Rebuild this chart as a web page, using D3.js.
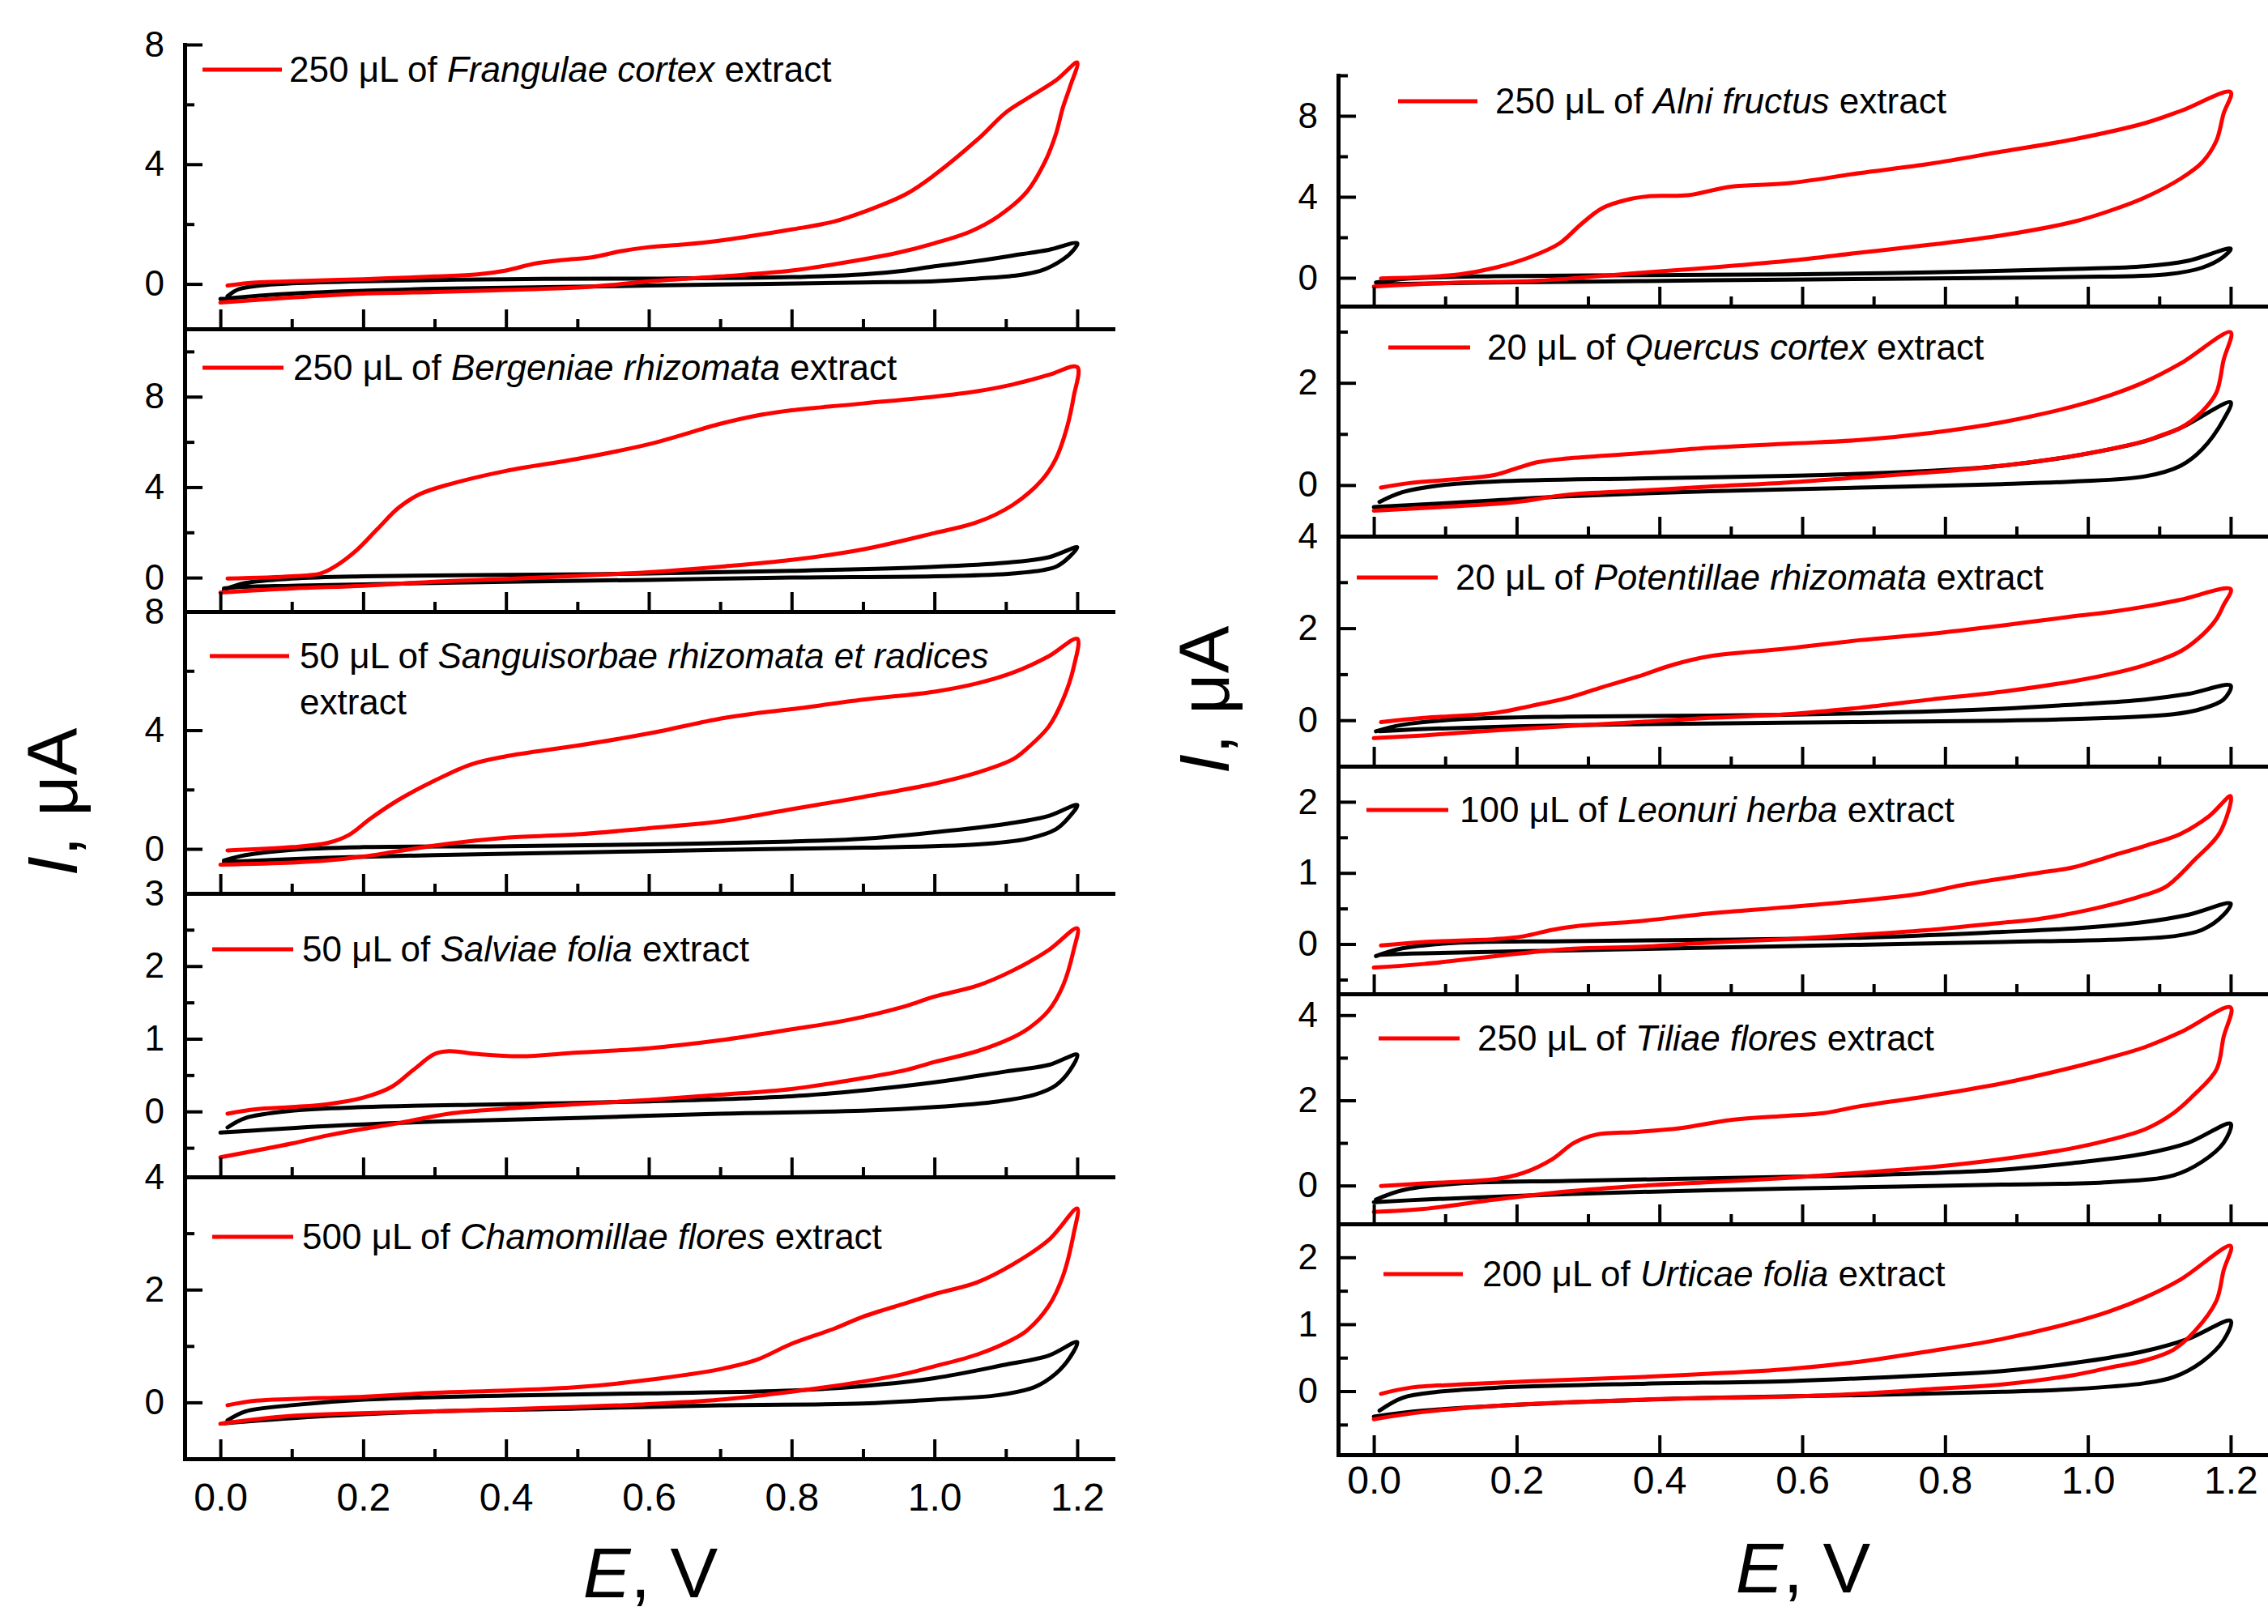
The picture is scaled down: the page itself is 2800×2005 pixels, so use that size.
<!DOCTYPE html>
<html>
<head>
<meta charset="utf-8">
<script src="https://cdn.jsdelivr.net/npm/d3@7"></script>
<style>
  body { margin: 0; background: #fff; }
  svg text { font-family: "Liberation Sans", Arial, sans-serif; }
</style>
</head>
<body>
<div id="main-container"></div>
<script>
var width = 2800,
    height = 2005

// legend texts, left column first, then right column
var doses = ["250 μL of ", "250 μL of ", "50 μL of ", "50 μL of ", "500 μL of ",
             "250 μL of ", "20 μL of ", "20 μL of ", "100 μL of ", "250 μL of ", "200 μL of "]
var extracts = ["Frangulae cortex", "Bergeniae rhizomata", "Sanguisorbae rhizomata et radices", "Salviae folia", "Chamomillae flores",
                "Alni fructus", "Quercus cortex", "Potentillae rhizomata", "Leonuri herba", "Tiliae flores", "Urticae folia"]

// axes
var xTicks = [0, 0.2, 0.4, 0.6, 0.8, 1.0, 1.2]
var xMinorTicks = [0.1, 0.3, 0.5, 0.7, 0.9, 1.1]
var yDomains = [[-1.5, 8], [-1.5, 11], [-1.5, 8], [-0.9, 3], [-1, 4],
                [-1.4, 10], [-1, 3.5], [-1, 4], [-0.7, 2.5], [-0.9, 4.5], [-0.95, 2.5]]
var yTicks = [[0, 4, 8], [0, 4, 8], [0, 4, 8], [0, 1, 2, 3], [0, 2, 4],
              [0, 4, 8], [0, 2], [0, 2, 4], [0, 1, 2], [0, 2, 4], [0, 1, 2]]
var yMinorTicks = [[2, 6], [2, 6, 10], [2, 6], [-0.5, 0.5, 1.5, 2.5], [1, 3],
                   [2, 6, 10], [1, 3], [1, 3], [-0.5, 0.5, 1.5], [1, 3], [-0.5, 0.5, 1.5]]

// CV curves [E, V ; I, uA]: anodic sweep up to 1.2 V then back to 0 V
var frangulaeExtract = [[0.01,-0.05],[0.05,0.05],[0.1,0.09],[0.2,0.16],[0.3,0.25],[0.36,0.32],[0.4,0.45],[0.44,0.68],[0.48,0.8],[0.52,0.89],[0.56,1.09],[0.6,1.23],[0.65,1.32],[0.7,1.45],[0.8,1.82],[0.86,2.09],[0.9,2.4],[0.96,3.0],[1.0,3.64],[1.06,4.82],[1.1,5.73],[1.13,6.2],[1.17,6.8],[1.2,7.4],
  [1.19,6.6],[1.18,5.9],[1.17,5.0],[1.155,4.09],[1.13,3.1],[1.09,2.27],[1.05,1.75],[1.0,1.36],[0.95,1.05],[0.9,0.82],[0.8,0.45],[0.7,0.25],[0.6,0.09],[0.55,-0.03],[0.5,-0.12],[0.4,-0.2],[0.3,-0.27],[0.2,-0.32],[0.1,-0.45],[0.0,-0.62]]
var frangulaeBlank = [[0.01,-0.41],[0.025,-0.18],[0.055,-0.05],[0.1,0.02],[0.2,0.09],[0.4,0.16],[0.6,0.18],[0.8,0.23],[0.9,0.32],[0.96,0.45],[1.0,0.59],[1.06,0.77],[1.11,0.95],[1.16,1.14],[1.2,1.36],
  [1.195,1.14],[1.18,0.82],[1.15,0.45],[1.11,0.27],[1.06,0.18],[1.0,0.09],[0.9,0.05],[0.7,-0.02],[0.5,-0.09],[0.3,-0.16],[0.1,-0.32],[0.0,-0.5]]

var bergeniaeExtract = [[0.01,-0.04],[0.1,0.06],[0.14,0.18],[0.16,0.48],[0.19,1.19],[0.22,2.15],[0.25,3.1],[0.28,3.7],[0.32,4.12],[0.4,4.72],[0.5,5.25],[0.6,5.9],[0.7,6.8],[0.75,7.16],[0.8,7.4],[0.9,7.7],[1.0,8.0],[1.06,8.24],[1.11,8.54],[1.16,8.96],[1.2,9.31],
  [1.195,8.0],[1.185,6.57],[1.17,5.25],[1.15,4.3],[1.11,3.22],[1.06,2.45],[1.0,1.97],[0.9,1.25],[0.8,0.78],[0.7,0.48],[0.6,0.24],[0.5,0.08],[0.4,-0.06],[0.3,-0.18],[0.2,-0.36],[0.1,-0.48],[0.0,-0.66]]
var bergeniaeBlank = [[0.005,-0.54],[0.035,-0.24],[0.1,-0.04],[0.2,0.06],[0.4,0.12],[0.6,0.18],[0.8,0.3],[1.0,0.48],[1.1,0.66],[1.16,0.9],[1.2,1.34],
  [1.19,0.95],[1.17,0.48],[1.11,0.18],[1.0,0.06],[0.8,0.0],[0.6,-0.1],[0.4,-0.18],[0.2,-0.3],[0.1,-0.36],[0.025,-0.42],[0.005,-0.48]]

var sanguisorbaeExtract = [[0.01,-0.05],[0.1,0.06],[0.15,0.2],[0.18,0.47],[0.21,1.02],[0.25,1.66],[0.3,2.3],[0.35,2.84],[0.4,3.12],[0.5,3.48],[0.6,3.89],[0.7,4.39],[0.75,4.57],[0.8,4.71],[0.9,5.03],[1.0,5.3],[1.06,5.58],[1.11,5.94],[1.16,6.49],[1.2,7.08],
  [1.195,6.12],[1.18,5.03],[1.16,4.12],[1.13,3.39],[1.11,3.02],[1.06,2.57],[1.0,2.2],[0.9,1.75],[0.8,1.34],[0.7,0.93],[0.6,0.7],[0.5,0.49],[0.4,0.38],[0.35,0.26],[0.3,0.11],[0.25,-0.07],[0.2,-0.26],[0.15,-0.39],[0.1,-0.46],[0.0,-0.53]]
var sanguisorbaeBlank = [[0.005,-0.39],[0.035,-0.21],[0.1,-0.03],[0.2,0.06],[0.4,0.09],[0.6,0.15],[0.8,0.25],[0.9,0.34],[1.0,0.56],[1.1,0.84],[1.16,1.11],[1.2,1.48],
  [1.19,1.11],[1.17,0.66],[1.13,0.34],[1.06,0.15],[0.9,0.04],[0.7,-0.03],[0.5,-0.12],[0.3,-0.21],[0.15,-0.3],[0.005,-0.44]]

var salviaeExtract = [[0.01,-0.03],[0.05,0.03],[0.1,0.06],[0.15,0.1],[0.2,0.19],[0.24,0.34],[0.27,0.57],[0.3,0.79],[0.32,0.83],[0.36,0.79],[0.42,0.76],[0.5,0.81],[0.6,0.87],[0.7,0.98],[0.8,1.13],[0.88,1.26],[0.96,1.45],[1.0,1.58],[1.06,1.73],[1.11,1.94],[1.16,2.22],[1.2,2.52],
  [1.195,2.22],[1.18,1.73],[1.16,1.39],[1.13,1.13],[1.11,1.02],[1.06,0.83],[1.0,0.68],[0.96,0.57],[0.9,0.46],[0.8,0.31],[0.7,0.23],[0.6,0.16],[0.5,0.1],[0.4,0.04],[0.32,-0.03],[0.25,-0.16],[0.2,-0.24],[0.15,-0.33],[0.1,-0.44],[0.0,-0.63]]
var salviaeBlank = [[0.01,-0.22],[0.035,-0.09],[0.1,0.01],[0.2,0.06],[0.4,0.1],[0.6,0.14],[0.8,0.21],[0.9,0.29],[1.0,0.4],[1.1,0.55],[1.16,0.64],[1.2,0.78],
  [1.19,0.57],[1.17,0.36],[1.14,0.23],[1.09,0.14],[1.0,0.06],[0.9,0.01],[0.7,-0.03],[0.5,-0.09],[0.3,-0.14],[0.15,-0.2],[0.0,-0.29]]

var chamomillaeExtract = [[0.01,-0.05],[0.05,0.03],[0.1,0.06],[0.2,0.1],[0.3,0.17],[0.4,0.21],[0.5,0.27],[0.6,0.4],[0.7,0.59],[0.75,0.75],[0.8,1.04],[0.86,1.31],[0.9,1.52],[0.96,1.76],[1.0,1.92],[1.06,2.13],[1.11,2.45],[1.16,2.88],[1.2,3.44],
  [1.195,2.99],[1.18,2.24],[1.16,1.71],[1.13,1.28],[1.11,1.12],[1.06,0.85],[1.0,0.64],[0.96,0.51],[0.9,0.37],[0.8,0.19],[0.7,0.05],[0.6,-0.03],[0.5,-0.08],[0.3,-0.16],[0.1,-0.24],[0.0,-0.38]]
var chamomillaeBlank = [[0.01,-0.32],[0.035,-0.16],[0.1,-0.05],[0.2,0.05],[0.4,0.12],[0.6,0.16],[0.8,0.21],[0.9,0.29],[1.0,0.43],[1.1,0.67],[1.16,0.83],[1.2,1.07],
  [1.19,0.8],[1.17,0.51],[1.14,0.27],[1.09,0.13],[1.0,0.05],[0.9,-0.02],[0.7,-0.05],[0.5,-0.11],[0.3,-0.16],[0.15,-0.24],[0.005,-0.37]]

var alniExtract = [[0.01,-0.03],[0.07,0.04],[0.12,0.17],[0.17,0.5],[0.22,1.04],[0.26,1.7],[0.29,2.64],[0.32,3.44],[0.36,3.9],[0.39,4.04],[0.44,4.08],[0.5,4.5],[0.58,4.67],[0.68,5.17],[0.78,5.64],[0.88,6.24],[0.98,6.84],[1.08,7.64],[1.13,8.24],[1.2,9.17],
  [1.19,8.1],[1.18,6.77],[1.16,5.7],[1.13,4.9],[1.08,3.97],[1.03,3.3],[0.98,2.77],[0.88,2.1],[0.78,1.64],[0.68,1.24],[0.58,0.84],[0.47,0.5],[0.37,0.24],[0.3,0.04],[0.22,-0.16],[0.12,-0.23],[0.0,-0.43]]
var alniBlank = [[0.003,-0.23],[0.05,-0.03],[0.17,0.08],[0.37,0.13],[0.58,0.17],[0.78,0.27],[0.98,0.44],[1.08,0.57],[1.14,0.84],[1.2,1.44],
  [1.19,1.04],[1.16,0.5],[1.11,0.17],[0.98,0.04],[0.78,-0.03],[0.58,-0.09],[0.37,-0.16],[0.17,-0.23],[0.01,-0.32]]

var quercusExtract = [[0.01,-0.05],[0.05,0.04],[0.12,0.12],[0.17,0.2],[0.2,0.33],[0.23,0.45],[0.27,0.52],[0.37,0.62],[0.47,0.73],[0.58,0.81],[0.68,0.88],[0.78,1.02],[0.88,1.23],[0.98,1.54],[1.03,1.75],[1.08,2.02],[1.13,2.38],[1.2,2.99],
  [1.19,2.44],[1.18,1.81],[1.16,1.44],[1.13,1.12],[1.1,0.96],[1.08,0.86],[1.03,0.7],[0.98,0.57],[0.88,0.38],[0.78,0.25],[0.68,0.15],[0.58,0.05],[0.47,-0.03],[0.37,-0.11],[0.27,-0.19],[0.2,-0.33],[0.12,-0.41],[0.0,-0.5]]
var quercusBlank = [[0.008,-0.33],[0.04,-0.14],[0.09,-0.01],[0.17,0.07],[0.37,0.13],[0.58,0.18],[0.78,0.28],[0.88,0.38],[0.98,0.57],[1.08,0.86],[1.13,1.12],[1.2,1.62],
  [1.19,1.28],[1.16,0.7],[1.13,0.38],[1.08,0.17],[0.98,0.07],[0.88,0.02],[0.68,-0.05],[0.47,-0.12],[0.27,-0.22],[0.17,-0.3],[0.0,-0.43]]

var potentillaeExtract = [[0.01,-0.04],[0.07,0.05],[0.17,0.16],[0.22,0.31],[0.27,0.48],[0.32,0.72],[0.37,0.95],[0.42,1.21],[0.47,1.39],[0.58,1.56],[0.68,1.74],[0.78,1.88],[0.88,2.06],[0.98,2.26],[1.03,2.35],[1.08,2.47],[1.13,2.62],[1.2,2.85],
  [1.19,2.5],[1.18,2.2],[1.16,1.85],[1.13,1.5],[1.08,1.2],[1.03,1.0],[0.98,0.85],[0.88,0.62],[0.78,0.45],[0.68,0.27],[0.58,0.13],[0.47,0.05],[0.37,-0.04],[0.27,-0.13],[0.17,-0.22],[0.07,-0.33],[0.0,-0.39]]
var potentillaeBlank = [[0.003,-0.24],[0.04,-0.1],[0.12,0.02],[0.27,0.08],[0.47,0.1],[0.68,0.15],[0.88,0.25],[0.98,0.34],[1.08,0.45],[1.14,0.57],[1.2,0.75],
  [1.19,0.45],[1.16,0.25],[1.12,0.13],[1.03,0.05],[0.88,-0.01],[0.68,-0.04],[0.47,-0.07],[0.27,-0.11],[0.07,-0.19],[0.008,-0.24]]

var leonuriExtract = [[0.01,-0.02],[0.07,0.03],[0.17,0.07],[0.21,0.11],[0.25,0.2],[0.29,0.26],[0.37,0.32],[0.47,0.43],[0.58,0.52],[0.68,0.61],[0.76,0.7],[0.83,0.84],[0.93,1.0],[0.98,1.08],[1.03,1.23],[1.08,1.38],[1.13,1.55],[1.17,1.8],[1.2,2.08],
  [1.185,1.57],[1.15,1.19],[1.11,0.81],[1.08,0.69],[1.01,0.5],[0.93,0.35],[0.88,0.3],[0.78,0.2],[0.68,0.13],[0.58,0.07],[0.47,0.02],[0.37,-0.04],[0.27,-0.07],[0.17,-0.17],[0.07,-0.28],[0.0,-0.33]]
var leonuriBlank = [[0.003,-0.17],[0.04,-0.06],[0.12,0.02],[0.27,0.04],[0.47,0.06],[0.68,0.09],[0.88,0.17],[0.98,0.22],[1.08,0.31],[1.14,0.41],[1.2,0.57],
  [1.19,0.41],[1.16,0.2],[1.12,0.11],[1.03,0.06],[0.88,0.03],[0.68,-0.01],[0.47,-0.05],[0.27,-0.09],[0.07,-0.13],[0.008,-0.15]]

var tiliaeExtract = [[0.01,-0.01],[0.07,0.05],[0.17,0.15],[0.21,0.3],[0.25,0.62],[0.28,1.0],[0.31,1.19],[0.37,1.26],[0.43,1.35],[0.5,1.54],[0.58,1.64],[0.63,1.7],[0.68,1.86],[0.78,2.11],[0.88,2.4],[0.98,2.78],[1.03,3.0],[1.08,3.25],[1.13,3.6],[1.2,4.18],
  [1.19,3.48],[1.18,2.72],[1.15,2.15],[1.12,1.7],[1.08,1.32],[1.03,1.07],[0.98,0.88],[0.88,0.62],[0.78,0.43],[0.68,0.3],[0.58,0.18],[0.47,0.08],[0.37,-0.01],[0.27,-0.14],[0.17,-0.33],[0.07,-0.55],[0.0,-0.62]]
var tiliaeBlank = [[0.003,-0.33],[0.04,-0.11],[0.12,0.05],[0.27,0.11],[0.47,0.17],[0.68,0.24],[0.88,0.37],[0.98,0.53],[1.08,0.75],[1.14,1.0],[1.2,1.45],
  [1.19,1.0],[1.16,0.56],[1.12,0.24],[1.03,0.08],[0.88,0.02],[0.68,-0.04],[0.47,-0.11],[0.27,-0.2],[0.07,-0.33],[0.0,-0.39]]

var urticaeExtract = [[0.01,-0.04],[0.05,0.05],[0.12,0.1],[0.22,0.15],[0.37,0.21],[0.47,0.26],[0.58,0.33],[0.68,0.44],[0.78,0.6],[0.88,0.78],[0.98,1.03],[1.03,1.19],[1.08,1.4],[1.13,1.67],[1.2,2.17],
  [1.19,1.8],[1.18,1.35],[1.15,0.9],[1.12,0.62],[1.08,0.46],[1.03,0.35],[0.98,0.24],[0.88,0.1],[0.78,0.03],[0.68,-0.04],[0.58,-0.08],[0.37,-0.13],[0.17,-0.22],[0.07,-0.31],[0.0,-0.42]]
var urticaeBlank = [[0.008,-0.29],[0.04,-0.1],[0.09,-0.01],[0.17,0.05],[0.37,0.11],[0.58,0.15],[0.78,0.24],[0.88,0.3],[0.98,0.42],[1.08,0.6],[1.14,0.78],[1.2,1.05],
  [1.19,0.76],[1.16,0.44],[1.12,0.21],[1.08,0.12],[0.98,0.03],[0.88,-0.01],[0.68,-0.06],[0.47,-0.1],[0.27,-0.17],[0.07,-0.29],[0.0,-0.38]]

var extractCurves = [frangulaeExtract, bergeniaeExtract, sanguisorbaeExtract, salviaeExtract, chamomillaeExtract,
                     alniExtract, quercusExtract, potentillaeExtract, leonuriExtract, tiliaeExtract, urticaeExtract]
var blankCurves = [frangulaeBlank, bergeniaeBlank, sanguisorbaeBlank, salviaeBlank, chamomillaeBlank,
                   alniBlank, quercusBlank, potentillaeBlank, leonuriBlank, tiliaeBlank, urticaeBlank]

// layout (pixels)
var columns = [
  {range: [228, 1374], labelPad: 30, titleX: 803, titleY: 1972, yTitleX: 95, yTitleY: 990},
  {range: [1652, 2798], labelPad: 14, titleX: 2226, titleY: 1966, yTitleX: 1517, yTitleY: 864}
]
var panels = [
  {col: 0, top: 55,   bottom: 406,  legY: 86,   line: [250, 348],   textX: 357},
  {col: 0, top: 406,  bottom: 755,  legY: 454,  line: [250, 350],   textX: 362},
  {col: 0, top: 755,  bottom: 1103, legY: 810,  line: [259, 357],   textX: 370, wrap: true},
  {col: 0, top: 1103, bottom: 1453, legY: 1172, line: [262, 362],   textX: 373},
  {col: 0, top: 1453, bottom: 1801, legY: 1527, line: [262, 362],   textX: 373, last: true},
  {col: 1, top: 93,   bottom: 378,  legY: 125,  line: [1726, 1824], textX: 1846},
  {col: 1, top: 378,  bottom: 662,  legY: 429,  line: [1714, 1815], textX: 1836},
  {col: 1, top: 662,  bottom: 946,  legY: 713,  line: [1675, 1775], textX: 1797},
  {col: 1, top: 946,  bottom: 1227, legY: 1000, line: [1687, 1788], textX: 1802},
  {col: 1, top: 1227, bottom: 1511, legY: 1282, line: [1702, 1802], textX: 1824},
  {col: 1, top: 1511, bottom: 1796, legY: 1573, line: [1708, 1806], textX: 1830, last: true, noMinor: true}
]

var red = "#ff0000"

var svg = d3.select("#main-container").append("svg")
  .attr("id", "chart")
  .attr("width", width)
  .attr("height", height)

svg.append("rect").attr("width", width).attr("height", height).attr("fill", "#fff")

function styleAxis(g, w) {
  g.select(".domain").attr("stroke", "#000").attr("stroke-width", 5).attr("stroke-linecap", "square")
  g.selectAll(".tick line").attr("stroke", "#000").attr("stroke-width", w)
  g.selectAll(".tick text").attr("fill", "#000").attr("font-family", "Liberation Sans, Arial, sans-serif")
}

panels.forEach(function(p, i) {
  var col = columns[p.col]
  var x = d3.scaleLinear().domain([-0.05, 1.25]).range(col.range)
  var y = d3.scaleLinear().domain(yDomains[i]).range([p.bottom, p.top])
  var x0 = col.range[0]

  var line = d3.line()
    .x(function(d){ return x(d[0]) })
    .y(function(d){ return y(d[1]) })
    .curve(d3.curveCatmullRom.alpha(0.5))

  // curves: blank (black) under extract (red)
  svg.append("path")
    .datum(blankCurves[i])
    .attr("d", line)
    .attr("fill", "none")
    .attr("stroke", "#000")
    .attr("stroke-width", 5)
    .attr("stroke-linejoin", "round")
    .attr("stroke-linecap", "round")

  svg.append("path")
    .datum(extractCurves[i])
    .attr("d", line)
    .attr("fill", "none")
    .attr("stroke", red)
    .attr("stroke-width", 5)
    .attr("stroke-linejoin", "round")
    .attr("stroke-linecap", "round")

  // y axis, ticks pointing inward
  var yMinor = svg.append("g")
    .attr("transform", "translate(" + x0 + ",0)")
    .call(d3.axisLeft(y).tickValues(yMinorTicks[i]).tickSizeInner(-12).tickSizeOuter(0).tickFormat(""))
  styleAxis(yMinor, 4)

  var yAxis = svg.append("g")
    .attr("transform", "translate(" + x0 + ",0)")
    .call(d3.axisLeft(y).tickValues(yTicks[i]).tickSizeInner(-22).tickSizeOuter(0).tickPadding(25)
      .tickFormat(d3.format("d")))
  yAxis.selectAll(".tick text").attr("font-size", 44)
  styleAxis(yAxis, 4)

  // x axis at the bottom of each panel
  if (!p.noMinor) {
    var xMinor = svg.append("g")
      .attr("transform", "translate(0," + p.bottom + ")")
      .call(d3.axisBottom(x).tickValues(xMinorTicks).tickSizeInner(-12).tickSizeOuter(0).tickFormat(""))
    styleAxis(xMinor, 4)
  }

  var xAxis = svg.append("g")
    .attr("transform", "translate(0," + p.bottom + ")")
    .call(d3.axisBottom(x).tickValues(xTicks).tickSizeInner(-24).tickSizeOuter(0).tickPadding(col.labelPad)
      .tickFormat(p.last ? d3.format(".1f") : ""))
  xAxis.selectAll(".tick text").attr("font-size", 48)
  styleAxis(xAxis, 4)

  // legend
  svg.append("line")
    .attr("x1", p.line[0]).attr("x2", p.line[1])
    .attr("y1", p.legY).attr("y2", p.legY)
    .attr("stroke", red)
    .attr("stroke-width", 5)

  var t = svg.append("text")
    .attr("x", p.textX)
    .attr("y", p.legY + 15)
    .attr("font-size", 44)
    .style("white-space", "pre")
  t.append("tspan").text(doses[i])
  t.append("tspan").attr("font-style", "italic").text(extracts[i])
  if (p.wrap) {
    svg.append("text")
      .attr("x", p.textX)
      .attr("y", p.legY + 15 + 57)
      .attr("font-size", 44)
      .text("extract")
  } else {
    t.append("tspan").text(" extract")
  }
})

// axis titles
columns.forEach(function(c) {
  var tx = svg.append("text")
    .attr("x", c.titleX)
    .attr("y", c.titleY)
    .attr("text-anchor", "middle")
    .attr("font-size", 88)
    .style("white-space", "pre")
  tx.append("tspan").attr("font-style", "italic").text("E")
  tx.append("tspan").text(", V")

  var ty = svg.append("text")
    .attr("transform", "translate(" + c.yTitleX + "," + c.yTitleY + ") rotate(-90)")
    .attr("text-anchor", "middle")
    .attr("font-size", 88)
    .style("white-space", "pre")
  ty.append("tspan").attr("font-style", "italic").text("I")
  ty.append("tspan").text(", μA")
})
</script>
</body>
</html>
